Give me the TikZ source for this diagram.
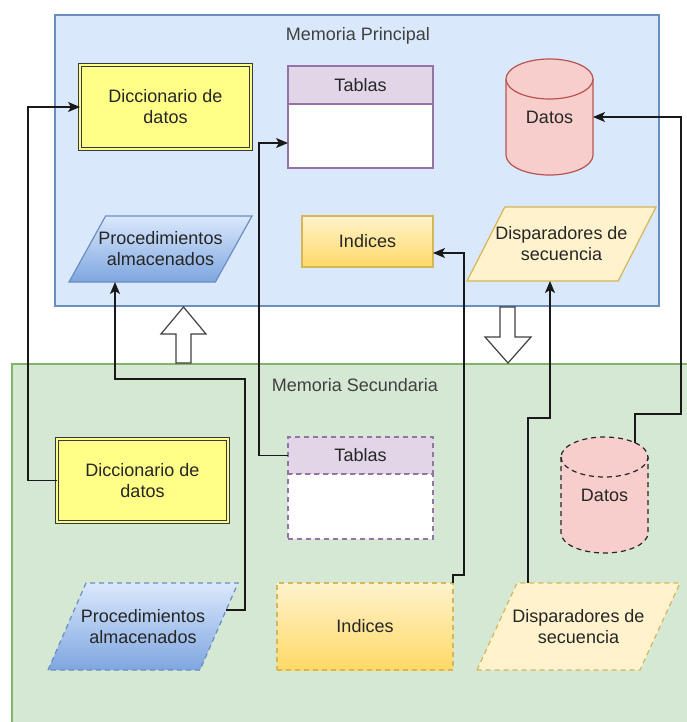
\documentclass[tikz,border=0pt]{standalone}
\usepackage{fontspec}
\setmainfont{Liberation Sans}
\usepackage{tikz}
\usetikzlibrary{arrows.meta}

\pgfdeclarelayer{back}
\pgfsetlayers{back,main}

\definecolor{mainfill}{HTML}{DAE8FC}
\definecolor{mainline}{HTML}{6C8EBF}
\definecolor{secfill}{HTML}{D5E8D4}
\definecolor{secline}{HTML}{82B366}
\definecolor{dictfill}{HTML}{FFFF88}
\definecolor{dictline}{HTML}{36393D}
\definecolor{tabfill}{HTML}{E1D5E7}
\definecolor{tabline}{HTML}{9673A6}
\definecolor{datfill}{HTML}{F8CECC}
\definecolor{datline}{HTML}{B85450}
\definecolor{idxtop}{HTML}{FFF2CC}
\definecolor{idxbot}{HTML}{FFD966}
\definecolor{idxline}{HTML}{D6B656}
\definecolor{proctop}{HTML}{DAE8FC}
\definecolor{procbot}{HTML}{7EA6E0}

\tikzset{
	base/.style={inner sep=0pt, outer sep=0pt, align=center, text=black!85, line width=1.2pt},
	cont/.style={base, rectangle},
	title/.style={inner sep=0pt, text=black!75},
	dicc/.style={base, rectangle, draw=dictline, line width=1pt, double=dictfill, double distance=2.2pt, fill=dictfill},
	tabhead/.style={base, rectangle, draw=tabline, fill=tabfill, minimum width=145pt},
	tabbody/.style={base, rectangle, draw=tabline, fill=white, minimum width=145pt, anchor=north},
	idx/.style={base, rectangle, draw=idxline, top color=idxtop, bottom color=idxbot},
	datos/.style={line width=1.2pt, draw=datline, fill=datfill},
	proc/.style={line width=1.2pt, draw=mainline, top color=proctop, bottom color=procbot},
	disp/.style={line width=1.2pt, draw=idxline, fill=idxtop},
	dashline/.style={dash pattern=on 5pt off 4pt},
	link/.style={line width=1.3pt, black!90, -{Stealth[length=12pt, width=10pt, inset=3pt]}},
	hollow/.style={draw=black!75, fill=white, line width=1.2pt, line join=miter}
}

\begin{document}
\begin{tikzpicture}[x=1pt, y=-1pt, font=\fontsize{18}{21}\selectfont]
		\useasboundingbox (0,0) rectangle (686,722);
		\clip (0,0) rectangle (686,722);

		%%% Main memory
		\node[title] (mainlbl) at (358,36) {Memoria Principal};
		\node[dicc, minimum width=171pt, minimum height=84pt] (dictP) at (165.5,107) {Diccionario de\\datos};
		\node[tabhead, minimum height=38pt] (tabP) at (360.5,85) {Tablas};
		\node[tabbody, minimum height=64pt] (tabPbody) at (tabP.south) {};
		\node[base, minimum width=87pt, minimum height=116pt] (datP) at (549.5,117) {Datos};
		\node[base, minimum width=183pt, minimum height=66pt] (procP) at (160.5,249) {Procedimientos\\almacenados};
		\node[idx, minimum width=131pt, minimum height=51pt] (idxP) at (367.5,241.5) {Indices};
		\node[base, minimum width=189pt, minimum height=74pt] (dispP) at (561.5,244) {Disparadores de\\secuencia};

		%%% Secondary memory
		\node[title] (seclbl) at (355,385) {Memoria Secundaria};
		\node[dicc, minimum width=171pt, minimum height=83pt] (dictS) at (142.5,480.5) {Diccionario de\\datos};
		\node[tabhead, dashline, minimum height=37pt] (tabS) at (360.5,455.5) {Tablas};
		\node[tabbody, dashline, minimum height=65pt] (tabSbody) at (tabS.south) {};
		\node[base, minimum width=87pt, minimum height=116pt] (datS) at (604.5,495) {Datos};
		\node[base, minimum width=190pt, minimum height=87pt] (procS) at (143,626.5) {Procedimientos\\almacenados};
		\node[idx, dashline, minimum width=176pt, minimum height=87pt] (idxS) at (365,626.5) {Indices};
		\node[base, minimum width=203pt, minimum height=87pt] (dispS) at (578.5,626.5) {Disparadores de\\secuencia};

		\begin{pgfonlayer}{back}
		%%% Memories
		\node[cont, draw=mainline, fill=mainfill, minimum width=604pt, minimum height=291pt] (mainmem) at (357,160.5) {};
		\node[cont, draw=secline, fill=secfill, minimum width=680pt, minimum height=364pt] (secmem) at (352,546) {};

		%%% Transfer arrows
		\draw[hollow] (176,363) -- (176,334) -- (161,334) -- (183.5,307) -- (206,334) -- (191,334) -- (191,363) -- cycle;
		\draw[hollow] (500,307) -- (500,337) -- (485,337) -- (508,363) -- (531,337) -- (515,337) -- (515,307) -- cycle;

		%%% Cylinders
		\draw[datos] ([yshift=-20pt]datP.north west) -- ([yshift=20pt]datP.south west) arc (180:360:43.5pt and 20pt)
			-- ([yshift=-20pt]datP.north east) arc (0:180:43.5pt and 20pt) -- cycle;
		\draw[datos] ([yshift=-20pt]datP.north west) arc (180:360:43.5pt and 20pt);
		\draw[datos, draw=black!85, dashline] ([yshift=-20pt]datS.north west) -- ([yshift=20pt]datS.south west) arc (180:360:43.5pt and 20pt)
			-- ([yshift=-20pt]datS.north east) arc (0:180:43.5pt and 20pt) -- cycle;
		\draw[datos, draw=black!85, dashline] ([yshift=-20pt]datS.north west) arc (180:360:43.5pt and 20pt);

		%%% Parallelograms
		\draw[proc] (procP.south west) -- ([xshift=36.6pt]procP.north west) -- (procP.north east) -- ([xshift=-36.6pt]procP.south east) -- cycle;
		\draw[disp] (dispP.south west) -- ([xshift=37.8pt]dispP.north west) -- (dispP.north east) -- ([xshift=-37.8pt]dispP.south east) -- cycle;
		\draw[proc, dashline] (procS.south west) -- ([xshift=38pt]procS.north west) -- (procS.north east) -- ([xshift=-38pt]procS.south east) -- cycle;
		\draw[disp, dashline] (dispS.south west) -- ([xshift=40pt]dispS.north west) -- (dispS.north east) -- ([xshift=-40pt]dispS.south east) -- cycle;
		\end{pgfonlayer}

		%%% Loading
		\draw[link] (dictS.west) -- ++(-29,0) |- (dictP.west);
		\draw[link] ([xshift=83.2pt, yshift=16.5pt]procS.center) -| (245,379) -| ([xshift=-45.5pt]procP.south);
		\draw[link] (tabS.west) -- ++(-29,0) |- ([yshift=-7pt]tabPbody.west);
		\draw[link] (idxS.north east) -- ++(0,-8) -- ++(11,0) |- ([yshift=-11.5pt]idxP.east);
		\draw[link] ([xshift=-50.5pt]dispS.north) -- ++(0,-165) -| ([xshift=-11.5pt]dispP.south);
		\draw[link] ([xshift=30.5pt, yshift=52.3pt]datS.center) |- (681,414) |- (datP.east);
\end{tikzpicture}
\end{document}
